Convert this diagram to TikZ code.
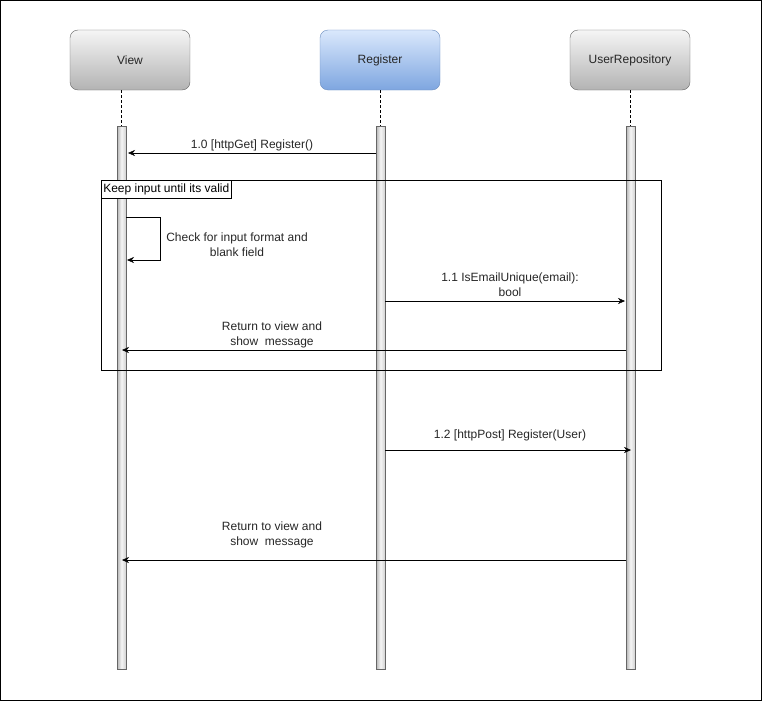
\documentclass[tikz,border=0pt]{standalone}
\usepackage{fontspec}
\setmainfont{Liberation Sans}
\usetikzlibrary{arrows.meta}
\definecolor{grayline}{HTML}{666666}
\definecolor{graytop}{HTML}{F5F5F5}
\definecolor{graybot}{HTML}{B3B3B3}
\definecolor{bluetop}{HTML}{DAE8FC}
\definecolor{bluebot}{HTML}{7EA6E0}
\definecolor{blueline}{HTML}{6C8EBF}
\begin{document}
\begin{tikzpicture}[x=1pt,y=-1pt,
  every node/.style={font=\fontsize{12}{15}\selectfont, text=black!85},
  actor/.style={draw=grayline, rounded corners=8pt, minimum width=120pt, minimum height=60pt, top color=graytop, bottom color=graybot, inner sep=0pt},
  bluebox/.style={actor, draw=blueline, top color=bluetop, bottom color=bluebot},
  lifeline/.style={draw=black, dashed, dash pattern=on 3pt off 2pt},
  bar/.style={draw=grayline, left color=graybot, right color=graybot!60, middle color=graytop},
  msg/.style={draw=black, -{Stealth[length=7pt,width=6pt]}},
  lbl/.style={align=center, inner sep=1pt}]
\useasboundingbox (0,0) rectangle (762,701);
\draw[black, line width=1pt] (0.5,0.5) rectangle (761,700.5);

\node[actor] (view) at (130,60) {View};
\node[bluebox] (reg) at (380,60) {Register};
\node[actor] (repo) at (630,60) {UserRepository};

\coordinate (vb) at (121.5,126);
\coordinate (rb) at (380.5,126);
\coordinate (ub) at (630.5,126);
\draw[lifeline] (view.south -| vb) -- (vb);
\draw[lifeline] (reg.south -| rb) -- (rb);
\draw[lifeline] (repo.south -| ub) -- (ub);

\path[bar] (117,126) rectangle (126,669);
\path[bar] (376,126) rectangle (385,669);
\path[bar] (626,126) rectangle (635,669);

% 1.0
\coordinate (m1s) at (376,153);
\coordinate (m1e) at (128,153);
\draw[msg] (m1s) -- (m1e) node[lbl, midway, above=1pt] {1.0 [httpGet] Register()};

% frame
\draw[black, line width=0.8pt] (101,180) rectangle (661,370);
\node[draw=black, line width=0.6pt, fill=white, anchor=north west, minimum height=18pt, minimum width=130pt, inner sep=1pt, text=black] (flbl) at (101,180) {Keep input until its valid};

% self loop
\coordinate (s1) at (126,217);
\coordinate (s2) at (160,217);
\coordinate (s3) at (160,260);
\coordinate (s4) at (127,260);
\draw[msg] (s1) -- (s2) -- (s3) -- (s4);
\node[lbl] (sl) at (237,245) {Check for input format and\\blank field};

% 1.1
\coordinate (m2s) at (385,301);
\coordinate (m2e) at (625,301);
\draw[msg] (m2s) -- (m2e);
\node[lbl] (l2) at (510,285) {1.1 IsEmailUnique(email):\\bool};

% return 1
\coordinate (m3s) at (626,350);
\coordinate (m3e) at (122,350);
\draw[msg] (m3s) -- (m3e);
\node[lbl] (l3) at (272,335) {Return to view and\\show\ \ message};

% 1.2
\coordinate (m4s) at (385,450);
\coordinate (m4e) at (631,450);
\draw[msg] (m4s) -- (m4e);
\node[lbl] (l4) at (510,435) {1.2 [httpPost] Register(User)};

% return 2
\coordinate (m5s) at (626,560);
\coordinate (m5e) at (122,560);
\draw[msg] (m5s) -- (m5e);
\node[lbl] (l5) at (272,535) {Return to view and\\show\ \ message};
\end{tikzpicture}
\end{document}
